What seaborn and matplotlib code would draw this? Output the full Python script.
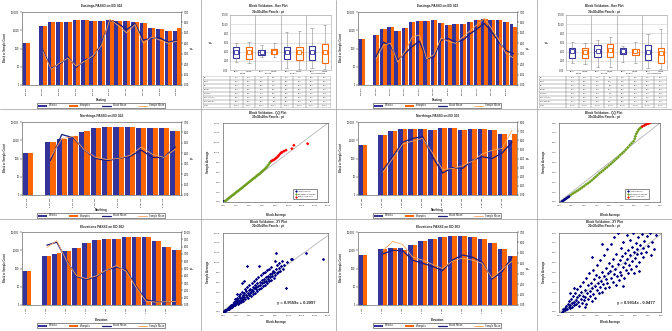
import numpy as np
import pandas as pd
import matplotlib
matplotlib.use("Agg")
import matplotlib.pyplot as plt
import seaborn as sns
from matplotlib.patches import Patch
from matplotlib.lines import Line2D
from matplotlib.ticker import NullLocator

# ---------------- swath data: counts per bin and bin means (pt) ----------------
east302_ticks = ["565 405", "565 455", "565 505", "565 555", "565 605",
                 "565 655", "565 705", "565 755", "565 805", "565 855"]
east302_blocks = [200, 0, 1650, 2850, 2850, 2850, 3500, 3700, 3100, 3100,
                  3700, 3200, 3200, 2850, 2500, 1340, 1100, 920, 950]
east302_samples = [200, 0, 1650, 2850, 2900, 2850, 3500, 3700, 3100, 3100,
                   3700, 3200, 3100, 2850, 2500, 1300, 1100, 950, 1300]
east302_bmean = [3.3, 1.6, 2.0, 2.7, 1.7, 2.4, 2.7, 4.0, 6.2, 5.9, 5.3, 5.9, 4.3, 4.5, 4.5, 4.1, 4.3]
east302_smean = [3.2, 1.5, 2.1, 2.6, 1.8, 2.3, 2.8, 3.8, 6.3, 5.7, 5.0, 5.8, 4.0, 4.6, 4.3, 4.0, 4.2]

north302_ticks = ["6 547 275", "6 547 325", "6 547 375", "6 547 425",
                  "6 547 475", "6 547 525", "6 547 575"]
north302_blocks = [190, 0, 800, 1200, 1500, 3000, 4900, 5500, 5500, 5300, 4800, 4900, 4500, 3200]
north302_samples = [190, 0, 800, 1100, 1700, 3200, 4900, 5500, 5400, 5300, 4900, 4900, 4500, 3200]
north302_bmean = [3.3, 5.8, 5.5, 4.3, 3.5, 3.3, 3.5, 3.7, 4.3, 3.6, 3.6, 4.6]
north302_smean = [3.6, 5.4, 5.6, 4.3, 3.6, 3.4, 3.5, 3.8, 4.6, 3.9, 3.6, 4.4]

elev302_ticks = ["2 110", "2 130", "2 150", "2 170", "2 190", "2 210", "2 230", "2 250"]
elev302_blocks = [70, 0, 470, 650, 900, 1400, 2400, 3800, 3900, 4200, 5000, 5200, 5000, 3200, 1500, 1000]
elev302_samples = [70, 0, 470, 700, 900, 1400, 2400, 3800, 3900, 4300, 5100, 5200, 5000, 3200, 1500, 1000]
elev302_bmean = [8.2, 8.6, 6.1, 3.9, 3.5, 3.9, 4.8, 5.2, 4.8, 2.5, 0.7, 0.45, 0.45, 0.5]
elev302_smean = [7.9, 8.8, 6.0, 4.0, 3.6, 4.0, 4.8, 5.4, 4.6, 2.4, 0.5, 0.4, 0.45, 0.5]

east303_ticks = ["565 330", "565 380", "565 430", "565 480", "565 530", "565 580",
                 "565 630", "565 680", "565 730", "565 780", "565 830"]
east303_blocks = [350, 0, 580, 1100, 1600, 880, 1340, 2850, 3200, 3200, 3500,
                  2500, 2000, 2300, 2300, 2850, 3800, 4100, 3600, 3500, 2800, 2300]
east303_samples = [350, 0, 580, 1100, 1600, 880, 1340, 2850, 3200, 3200, 3500,
                   2500, 2000, 2300, 2300, 2850, 3800, 4100, 3600, 3500, 2800, 1500]
east303_bmean = [2.7, 4.1, 3.8, 2.4, 3.0, 3.7, 4.2, 2.5, 2.7, 4.3,
                 4.45, 4.1, 4.3, 4.9, 5.4, 5.9, 5.1, 4.1, 3.3, 3.0]
east303_smean = [2.5, 3.8, 4.0, 2.2, 3.2, 4.6, 4.8, 2.5, 2.9, 4.5,
                 4.2, 4.0, 4.6, 5.2, 5.8, 6.4, 5.4, 4.3, 3.0, 2.6]

north303_ticks = ["6 547 180", "6 547 230", "6 547 280", "6 547 330",
                  "6 547 380", "6 547 430", "6 547 480", "6 547 530"]
north303_blocks = [530, 0, 2000, 3200, 4200, 4200, 4200, 3500, 4600, 4600, 3500, 4200, 4200, 3500, 2300, 1000]
north303_samples = [530, 0, 2000, 3200, 4200, 4200, 4200, 3500, 4600, 4600, 3500, 4200, 4200, 3500, 2300, 2100]
north303_bmean = [2.7, 4.2, 5.8, 6.2, 6.4, 4.2, 2.4, 3.0, 2.9, 3.8, 4.2, 4.0, 4.6, 5.8]
north303_smean = [2.5, 4.0, 5.6, 5.9, 6.2, 4.6, 2.8, 2.9, 3.2, 3.7, 4.5, 4.9, 5.1, 7.1]

elev303_ticks = ["2 110", "2 130", "2 150", "2 170", "2 190", "2 210", "2 230", "2 250"]
elev303_blocks = [530, 0, 1100, 1250, 1250, 1900, 3200, 4300, 5200, 6300, 6300, 5600, 4300, 2600, 1100, 500]
elev303_samples = [530, 0, 1100, 1250, 1000, 1900, 3200, 4300, 5200, 6300, 6300, 5600, 4300, 2600, 1100, 500]
elev303_bmean = [4.9, 5.25, 5.2, 4.3, 4.0, 3.7, 3.3, 4.3, 4.8, 4.6, 4.1, 2.5, 3.2, 4.6]
elev303_smean = [5.2, 6.1, 5.8, 4.6, 4.3, 3.9, 3.5, 4.2, 4.5, 4.3, 4.0, 2.6, 3.4, 4.2]

# ---------------- box plot statistics (Block / Sample per basis) ----------------
box_groups = ["Easting", "Northing", "Elevation", "Total Block Basis"]
box_rows = ["Q3", "MEAN", "Q1", "Median", "Std Dev", "Max (95% CI)", "Min (95% CI)", "Count"]

q1_302 = [2.55, 2.45, 3.30, 3.40, 2.35, 2.20, 2.20, 1.50]
med_302 = [3.90, 3.80, 3.90, 3.95, 3.95, 3.90, 3.80, 3.70]
q3_302 = [5.10, 5.10, 4.35, 4.50, 5.10, 5.10, 5.30, 5.65]
mean_302 = [4.00, 3.85, 3.95, 4.00, 3.95, 4.00, 3.90, 3.85]
lo_302 = [1.80, 1.50, 2.80, 2.80, 0.35, 0.30, 0.35, 0.15]
hi_302 = [5.80, 6.10, 5.50, 5.80, 8.40, 8.60, 9.10, 9.80]
std_302 = [1.21, 1.36, 0.71, 0.83, 1.93, 2.02, 1.95, 2.18]
count_302 = [49871, 49871, 49871, 49871, 49871, 49871, 49871, 49871]

q1_303 = [2.70, 2.55, 2.75, 2.80, 3.40, 3.25, 2.20, 1.45]
med_303 = [4.00, 3.90, 4.10, 4.20, 4.00, 4.00, 3.90, 3.60]
q3_303 = [4.90, 4.70, 5.45, 5.60, 4.70, 4.60, 5.45, 4.90]
mean_303 = [4.10, 3.95, 4.20, 4.30, 4.05, 4.05, 4.00, 3.70]
lo_303 = [1.45, 1.30, 0.70, 0.70, 1.80, 1.45, 0.35, 0.15]
hi_303 = [6.20, 6.00, 6.60, 7.10, 5.20, 6.20, 7.80, 8.90]
std_303 = [1.14, 1.22, 1.38, 1.47, 0.92, 1.06, 1.71, 1.98]
count_303 = [56204, 56204, 56204, 56204, 56204, 56204, 56204, 56204]

# ---------------- QQ plot quantiles ----------------
qq302_low_block = [0.05, 0.1, 0.15, 0.2]
qq302_low_sample = [0.0, 0.02, 0.05, 0.08]
qq302_mid_block = [0.3, 0.5, 0.7, 0.9, 1.1, 1.3, 1.5, 1.7, 1.9, 2.1, 2.3, 2.5, 2.7, 2.9, 3.1, 3.3, 3.5, 3.7,
                   3.9, 4.1, 4.3, 4.5, 4.7, 4.9, 5.1, 5.3, 5.5, 5.7, 5.9, 6.1, 6.3, 6.5, 6.7, 6.9, 7.1, 7.2]
qq302_mid_sample = [0.15, 0.35, 0.55, 0.8, 1.0, 1.2, 1.4, 1.6, 1.85, 2.05, 2.25, 2.45, 2.65, 2.85, 3.1, 3.3,
                    3.5, 3.75, 3.95, 4.15, 4.4, 4.6, 4.8, 5.0, 5.25, 5.45, 5.65, 5.85, 6.1, 6.35, 6.6, 6.85,
                    7.15, 7.5, 7.9, 8.1]
qq302_high_block = [7.4, 7.6, 7.8, 8.0, 8.2, 8.4, 8.6, 8.8, 9.0, 9.3, 9.6, 10.5, 10.8, 12.9]
qq302_high_sample = [8.3, 8.45, 8.6, 8.8, 9.0, 9.3, 9.6, 9.9, 10.1, 10.3, 10.5, 10.8, 11.5, 11.8]

qq303_low_block = [0.2, 0.3, 0.4, 0.5, 0.6, 0.7, 0.8]
qq303_low_sample = [0.0, 0.1, 0.2, 0.3, 0.38, 0.47, 0.56]
qq303_mid_block = [0.95, 1.1, 1.25, 1.4, 1.55, 1.7, 1.85, 2.0, 2.15, 2.3, 2.45, 2.6, 2.75, 2.9, 3.05, 3.2,
                   3.35, 3.5, 3.65, 3.8, 3.95, 4.1, 4.25, 4.4, 4.55, 4.7, 4.85, 5.0, 5.15, 5.3, 5.45, 5.6,
                   5.75, 5.9, 6.0, 6.05, 6.12, 6.2, 6.3, 6.4, 6.5]
qq303_mid_sample = [0.72, 0.85, 0.98, 1.1, 1.22, 1.35, 1.5, 1.62, 1.78, 1.9, 2.05, 2.2, 2.38, 2.55, 2.72,
                    2.9, 3.05, 3.2, 3.38, 3.52, 3.7, 3.85, 4.02, 4.2, 4.38, 4.55, 4.75, 4.92, 5.1, 5.3,
                    5.52, 5.75, 5.95, 6.15, 6.4, 6.65, 6.9, 7.1, 7.3, 7.45, 7.55]
qq303_high_block = [6.6, 6.75, 6.9, 7.05, 7.2]
qq303_high_sample = [7.65, 7.75, 7.85, 7.92, 8.0]

# ---------------- XY plot: panel block average vs sample average ----------------
xy302_block = [0.1, 0.2, 0.3, 0.35, 0.45, 0.5, 0.6, 0.7, 0.8, 0.85,
               0.95, 1.0, 1.1, 1.15, 1.25, 1.3, 1.4, 1.5, 1.55, 1.6,
               1.7, 1.8, 1.85, 1.9, 2.0, 2.05, 2.1, 2.2, 2.25, 2.3,
               2.4, 2.45, 2.5, 2.6, 2.65, 2.7, 2.8, 2.85, 2.9, 3.0,
               3.05, 3.1, 3.2, 3.25, 3.3, 3.4, 3.45, 3.5, 3.6, 3.65,
               3.7, 3.75, 3.8, 3.9, 3.95, 4.0, 4.1, 4.15, 4.2, 4.3,
               4.35, 4.4, 4.5, 4.55, 4.6, 4.7, 4.75, 4.8, 4.9, 5.0,
               5.05, 5.1, 5.2, 5.25, 5.3, 5.4, 5.5, 5.5, 5.6, 5.7,
               5.75, 5.8, 5.9, 6.0, 6.05, 6.1, 6.2, 6.3, 6.35, 6.4,
               6.5, 6.6, 6.7, 6.75, 6.8, 6.9, 7.0, 7.05, 7.1, 7.2,
               7.3, 7.35, 7.4, 7.5, 7.6, 7.7, 7.8, 7.9, 7.95, 8.0,
               8.1, 8.2, 8.3, 8.4, 8.5, 8.6, 8.7, 8.8, 9.0, 9.1,
               9.3, 9.6, 9.8, 10.3, 10.5, 12.7, 15.2, 2.2, 2.9, 3.2]
xy302_sample = [0.1, 0.15, 0.35, 0.2, 0.5, 0.4, 0.7, 0.55, 0.9, 0.7,
                1.1, 0.8, 1.3, 0.95, 1.5, 1.1, 1.2, 1.7, 1.35, 2.1,
                1.5, 1.9, 2.6, 1.4, 2.3, 1.8, 2.9, 2.0, 1.6, 2.5,
                3.2, 2.2, 1.9, 2.8, 3.6, 2.4, 2.1, 3.1, 4.0, 2.7,
                3.4, 2.3, 3.8, 3.0, 4.6, 2.6, 3.5, 4.2, 3.1, 5.0,
                9.3, 3.8, 2.9, 4.4, 3.4, 5.4, 3.9, 4.7, 3.2, 4.1,
                5.8, 4.5, 3.6, 5.1, 4.3, 6.2, 4.8, 3.9, 5.5, 4.6,
                6.6, 5.0, 4.2, 5.8, 7.0, 5.2, 9.4, 4.6, 6.1, 5.5,
                7.4, 4.9, 6.4, 5.8, 7.8, 5.2, 6.7, 6.0, 8.1, 5.5,
                7.0, 6.3, 8.5, 5.9, 7.3, 6.6, 8.8, 6.2, 7.6, 7.0,
                9.2, 6.5, 7.9, 7.2, 8.4, 6.8, 8.2, 10.3, 7.5, 12.0,
                8.7, 7.8, 9.5, 8.1, 9.0, 10.0, 8.4, 9.3, 10.4, 8.8,
                9.6, 4.9, 10.1, 10.8, 10.7, 12.0, 10.8, 3.6, 5.8, 6.2]
xy302_slope, xy302_icpt = 0.9559, 0.2097

xy303_block = [0.2, 0.3, 0.35, 0.45, 0.5, 0.55, 0.6, 0.7, 0.75, 0.8,
               0.85, 0.9, 0.95, 1.0, 1.05, 1.1, 1.15, 1.2, 1.25, 1.3,
               1.35, 1.4, 1.45, 1.5, 1.55, 1.6, 1.65, 1.7, 1.75, 1.8,
               1.85, 1.9, 1.95, 2.0, 2.05, 2.1, 2.15, 2.2, 2.25, 2.3,
               2.35, 2.4, 2.45, 2.5, 2.55, 2.6, 2.65, 2.7, 2.75, 2.8,
               2.85, 2.9, 2.95, 3.0, 3.05, 3.1, 3.15, 3.2, 3.25, 3.3,
               3.35, 3.4, 3.45, 3.5, 3.55, 3.6, 3.65, 3.7, 3.75, 3.8,
               3.85, 3.9, 3.95, 4.0, 4.05, 4.1, 4.15, 4.2, 4.25, 4.3,
               4.35, 4.4, 4.45, 4.5, 4.55, 4.6, 4.65, 4.7, 4.75, 4.8,
               4.85, 4.9, 4.95, 5.0, 5.05, 5.1, 5.15, 5.2, 5.25, 5.3,
               5.35, 5.4, 5.45, 5.5, 5.55, 5.6, 5.65, 5.7, 5.75, 5.8,
               5.85, 5.9, 5.95, 6.0, 6.05, 6.1, 6.15, 6.2, 6.3, 6.35,
               6.4, 6.5, 6.55, 6.6, 6.7, 6.8, 6.9, 7.0, 7.1, 7.2,
               7.3, 7.45, 7.6, 6.25, 5.0, 3.4, 2.6, 1.2, 0.9, 2.0]
xy303_sample = [0.05, 0.15, 0.3, 0.2, 0.45, 0.6, 0.3, 0.8, 0.5, 1.1,
                0.4, 0.7, 1.3, 0.9, 0.55, 1.6, 1.0, 0.7, 1.9, 1.2,
                0.8, 1.5, 2.3, 1.0, 1.7, 0.6, 2.6, 1.3, 2.0, 0.9,
                1.6, 3.0, 1.2, 2.2, 1.5, 3.4, 0.8, 1.9, 2.7, 1.3,
                3.9, 2.1, 1.6, 2.9, 1.1, 2.4, 4.3, 1.8, 3.3, 2.6,
                1.4, 3.7, 2.2, 4.8, 2.9, 1.9, 3.5, 2.5, 5.3, 3.1,
                2.0, 4.1, 2.8, 3.6, 5.8, 2.4, 4.5, 3.3, 6.4, 2.9,
                3.9, 5.0, 2.5, 4.2, 3.4, 6.9, 4.7, 3.0, 5.4, 3.8,
                7.6, 4.4, 2.7, 5.9, 3.6, 4.9, 8.0, 3.2, 5.3, 4.1,
                6.5, 3.7, 5.7, 4.6, 7.1, 3.4, 5.0, 6.0, 4.3, 7.8,
                5.4, 3.9, 6.3, 4.8, 5.8, 7.3, 4.4, 6.6, 5.2, 8.0,
                4.0, 6.1, 5.5, 7.0, 4.7, 6.4, 5.9, 7.6, 5.1, 6.8,
                6.0, 7.9, 5.6, 6.5, 7.2, 6.1, 7.7, 6.7, 8.0, 5.8,
                7.1, 6.4, 7.8, 4.2, 2.6, 6.9, 5.6, 2.4, 1.9, 0.5]
xy303_slope, xy303_icpt = 0.9914, -0.0477

# ---------------- styling ----------------
BLUE = "#333399"
ORANGE = "#FF6600"
NAVY = "#1A1A80"
PEACH = "#F7A55E"
PT_BLUE = "#000080"
PT_GREEN = "#6E9E1E"
PT_RED = "#FF0000"
FRAME = "#808080"

sns.set_theme(style="white")
plt.rcParams["font.family"] = ["Liberation Sans", "DejaVu Sans"]
plt.rcParams["axes.linewidth"] = 0.4

W, H = 672, 331
fig = plt.figure(figsize=(W / 100, H / 100), dpi=100)
fig.patch.set_facecolor("white")


def frac(x0, y0, x1, y1):
    return [x0 / W, 1 - y1 / H, (x1 - x0) / W, (y1 - y0) / H]


def ftext(x, y, s, **kw):
    fig.text(x / W, 1 - y / H, s, **kw)


def style_spines(ax, color=FRAME):
    for sp in ax.spines.values():
        sp.set_linewidth(0.4)
        sp.set_color(color)


def bar_panel(ox, oy, title, xlabel, ticks, blocks, samples, bmean, smean, rmax):
    n = len(blocks)
    ax = fig.add_axes(frac(ox + 22, oy + 12, ox + 181, oy + 85))
    df = pd.DataFrame({
        "bin": np.tile(np.arange(n), 2),
        "count": np.concatenate([blocks, samples]).astype(float),
        "series": ["#Blocks"] * n + ["#Samples"] * n,
    })
    sns.barplot(data=df, x="bin", y="count", hue="series", palette=[BLUE, ORANGE],
                saturation=1, width=0.9, gap=0, errorbar=None, legend=False,
                linewidth=0, ax=ax)
    ax.set_yscale("log")
    ax.set_ylim(1, 10000)
    ax.set_yticks([1, 10, 100, 1000, 10000])
    ax.set_yticklabels(["1", "10", "100", "1,000", "10,000"])
    ax.yaxis.set_minor_locator(NullLocator())
    ax.set_xlabel("")
    ax.set_ylabel("")

    ax2 = ax.twinx()
    xs = np.arange(n - len(bmean), n)
    sns.lineplot(x=xs, y=bmean, color=NAVY, linewidth=0.9, ax=ax2)
    sns.lineplot(x=xs, y=smean, color=PEACH, linewidth=0.6, ax=ax2)
    ax2.set_ylim(0, rmax)
    rt = np.arange(0, rmax + 0.5, 1.0)
    ax2.set_yticks(rt)
    ax2.set_yticklabels([f"{v:.2f}" for v in rt])
    ax2.set_ylabel("")
    ax.set_xlim(-0.5, n - 0.5)
    ax.set_xticks(np.arange(0, n, 2))
    ax.set_xticklabels(ticks, rotation=90)
    for a in (ax, ax2):
        a.tick_params(labelsize=1.8, length=1.2, width=0.3, pad=0.8, colors="black")
        style_spines(a)
    ax.tick_params(axis="x", labelsize=1.55)

    ftext(ox + 102, oy + 6.5, title, ha="center", va="center", fontsize=2.3, fontweight="bold")
    ftext(ox + 101, oy + 99.8, xlabel, ha="center", va="center", fontsize=2.2, fontweight="bold")
    ftext(ox + 5, oy + 48, "Block or Sample Count", ha="center", va="center",
          rotation=90, fontsize=1.9, fontweight="bold")
    ftext(ox + 192, oy + 48, "pt", ha="center", va="center", rotation=90,
          fontsize=2.0, fontweight="bold")

    handles = [Patch(facecolor=BLUE, edgecolor="none"), Patch(facecolor=ORANGE, edgecolor="none"),
               Line2D([], [], color=NAVY, lw=0.9), Line2D([], [], color=PEACH, lw=0.6)]
    leg = fig.legend(handles, ["#Blocks", "#Samples", "Block Mean", "Sample Mean"],
                     loc="center", bbox_to_anchor=((ox + 101) / W, 1 - (oy + 105.5) / H),
                     ncol=4, fontsize=1.8, frameon=True, fancybox=False, edgecolor="black",
                     handlelength=3.6, handleheight=0.9, columnspacing=4.5,
                     handletextpad=0.8, borderpad=0.35)
    leg.get_frame().set_linewidth(0.4)


def panel_titles(ox, oy, name, y1, y2):
    ftext(ox + 268, oy + y1, f"Block Validation - {name}", ha="center", va="center",
          fontsize=2.2, fontweight="bold")
    ftext(ox + 268, oy + y2, "30x30x20m Panels : pt", ha="center", va="center",
          fontsize=2.2, fontweight="bold")


def box_panel(ox, oy, q1, med, q3, mean, lo, hi, std, count):
    ax = fig.add_axes(frac(ox + 230, oy + 15, ox + 331, oy + 70))
    stats = [dict(q1=q1[i], med=med[i], q3=q3[i], whislo=lo[i], whishi=hi[i],
                  mean=mean[i], fliers=[]) for i in range(len(q1))]
    pos = np.arange(len(stats))
    bp = ax.bxp(stats, positions=pos, widths=0.5, showmeans=True, showfliers=False,
                patch_artist=True)
    colors = [BLUE, ORANGE] * (len(stats) // 2)
    for i, c in enumerate(colors):
        bp["boxes"][i].set_facecolor("white")
        bp["boxes"][i].set_edgecolor(c)
        bp["boxes"][i].set_linewidth(0.8)
        bp["medians"][i].set_color(c)
        bp["medians"][i].set_linewidth(0.5)
        m = bp["means"][i]
        m.set_marker("s")
        m.set_markersize(2.3)
        m.set_markerfacecolor("white")
        m.set_markeredgecolor(c)
        m.set_markeredgewidth(0.6)
    for w in bp["whiskers"] + bp["caps"]:
        w.set_color("#8c8c8c")
        w.set_linewidth(0.4)
    ax.set_xlim(-0.5, len(stats) - 0.5)
    ax.set_ylim(0, 12)
    yt = np.arange(0, 12.1, 2)
    ax.set_yticks(yt)
    ax.set_yticklabels([f"{v:.2f}" for v in yt])
    ax.yaxis.grid(True, color="#cfcfcf", lw=0.4)
    ax.set_axisbelow(True)
    for b in np.arange(1.5, len(stats) - 1, 2):
        ax.axvline(b, color="#8c8c8c", lw=0.4)
    ax.set_xticks(pos)
    ax.set_xticklabels(["Block", "Sample"] * (len(stats) // 2))
    ax.tick_params(axis="x", labelsize=1.4, length=0, pad=0.6)
    ax.tick_params(axis="y", labelsize=1.8, length=0, pad=1.0)
    style_spines(ax, "#a0a0a0")
    ftext(ox + 211, oy + 42, "pt", ha="center", va="center", rotation=90,
          fontsize=2.0, fontweight="bold")
    step = 101 / len(stats)
    for g, name in enumerate(box_groups):
        ftext(ox + 230 + step * (2 * g + 1), oy + 73.8, name, ha="center", va="center", fontsize=1.4)

    # summary table under the boxes
    tab = fig.add_axes(frac(ox + 203, oy + 75.5, ox + 331, oy + 107.5))
    tab.set_xlim(203, 331)
    tab.set_ylim(len(box_rows), 0)
    tab.axis("off")
    edges = [203] + [230 + step * k for k in range(len(stats) + 1)]
    tab.hlines(np.arange(len(box_rows) + 1), 203, 331, color="#606060", lw=0.3)
    tab.vlines(edges, 0, len(box_rows), color="#606060", lw=0.3)
    cells = [[f"{v:.2f}" for v in q3], [f"{v:.2f}" for v in mean], [f"{v:.2f}" for v in q1],
             [f"{v:.2f}" for v in med], [f"{v:.2f}" for v in std], [f"{v:.2f}" for v in hi],
             [f"{v:.2f}" for v in lo], [f"{v:,}" for v in count]]
    for r, label in enumerate(box_rows):
        tab.text(204, r + 0.5, label, ha="left", va="center", fontsize=1.3)
        for k in range(len(stats)):
            tab.text(230 + step * (k + 0.5), r + 0.5, cells[r][k], ha="center",
                     va="center", fontsize=1.3)


def scatter_axes(ox, oy, right, lim, step, xlab_y):
    ax = fig.add_axes(frac(ox + 223, oy + 13, ox + right, oy + 92))
    ax.set_xlim(0, lim)
    ax.set_ylim(0, lim)
    t = np.arange(0, lim + 0.01, step)
    ax.set_xticks(t)
    ax.set_yticks(t)
    ax.set_xticklabels([f"{v:.2f}" for v in t])
    ax.set_yticklabels([f"{v:.2f}" for v in t])
    ax.tick_params(labelsize=1.7, length=1.0, width=0.3, pad=0.8)
    style_spines(ax, "#404040")
    ftext(ox + (223 + right) / 2, oy + xlab_y, "Block Average", ha="center", va="center",
          fontsize=2.1, fontweight="bold")
    ftext(ox + 207.5, oy + 52, "Sample Average", ha="center", va="center", rotation=90,
          fontsize=2.1, fontweight="bold")
    return ax


def qq_panel(ox, oy, right, lim, step, low_b, low_s, mid_b, mid_s, high_b, high_s):
    ax = scatter_axes(ox, oy, right, lim, step, 105)
    ref = np.array([0, lim])
    ax.plot(ref, ref, color="#b4b4b4", lw=0.6, zorder=1)
    df = pd.DataFrame({
        "block": low_b + mid_b + high_b,
        "sample": low_s + mid_s + high_s,
        "class": (["less than P5"] * len(low_b) + ["between P5&P95"] * len(mid_b)
                  + ["great than P95"] * len(high_b)),
    })
    sns.scatterplot(data=df, x="block", y="sample", hue="class",
                    palette={"less than P5": PT_BLUE, "between P5&P95": PT_GREEN,
                             "great than P95": PT_RED},
                    marker="D", s=3, linewidth=0, legend=False, ax=ax, zorder=3)
    ax.set_xlabel("")
    ax.set_ylabel("")
    handles = [Line2D([], [], marker="D", ls="none", color=c, markersize=1.4, mew=0)
               for c in (PT_BLUE, PT_GREEN, PT_RED)]
    leg = fig.legend(handles, ["less than P5", "between P5&P95", "great than P95"],
                     loc="center", bbox_to_anchor=((ox + right - 23) / W, 1 - (oy + 84) / H),
                     fontsize=1.6, frameon=True, fancybox=False, edgecolor="black",
                     handlelength=1.0, handletextpad=0.6, borderpad=0.6, labelspacing=0.5)
    leg.get_frame().set_linewidth(0.4)
    panel_titles(ox, oy, "QQ Plot", 3, 7)


def xy_panel(ox, oy, right, lim, step, bx, sy, slope, icpt, eq_x):
    ax = scatter_axes(ox, oy, right, lim, step, 102)
    fit = np.array([0, lim])
    ax.plot(fit, slope * fit + icpt, color="#b4b4b4", lw=0.6, zorder=1)
    sns.scatterplot(x=bx, y=sy, color=PT_BLUE, marker="D", s=3, linewidth=0, ax=ax, zorder=3)
    sign = "+" if icpt >= 0 else "-"
    ax.text(eq_x, 0.12, f"y = {slope:.4f}x {sign} {abs(icpt):.4f}", transform=ax.transAxes,
            ha="center", va="center", fontsize=3.0, fontweight="bold")
    panel_titles(ox, oy, "XY Plot", 2, 6)


# ---------------- ED 302 ----------------
bar_panel(0, 0, "Eastings PASS3 on ED 302", "Easting", east302_ticks,
          east302_blocks, east302_samples, east302_bmean, east302_smean, 7)
bar_panel(0, 110, "Northings PASS3 on ED 302", "Northing", north302_ticks,
          north302_blocks, north302_samples, north302_bmean, north302_smean, 7)
bar_panel(0, 220, "Elevations PASS3 on ED 302", "Elevation", elev302_ticks,
          elev302_blocks, elev302_samples, elev302_bmean, elev302_smean, 10)
box_panel(0, 0, q1_302, med_302, q3_302, mean_302, lo_302, hi_302, std_302, count_302)
panel_titles(0, 0, "Box Plot", 6, 11.5)
qq_panel(0, 110, 328, 16, 2, qq302_low_block, qq302_low_sample, qq302_mid_block,
         qq302_mid_sample, qq302_high_block, qq302_high_sample)
xy_panel(0, 220, 328, 16, 2, xy302_block, xy302_sample, xy302_slope, xy302_icpt, 0.7)

# ---------------- ED 303 ----------------
bar_panel(336, 0, "Eastings PASS3 on ED 303", "Easting", east303_ticks,
          east303_blocks, east303_samples, east303_bmean, east303_smean, 7)
bar_panel(336, 110, "Northings PASS3 on ED 303", "Northing", north303_ticks,
          north303_blocks, north303_samples, north303_bmean, north303_smean, 8)
bar_panel(336, 220, "Elevations PASS3 on ED 303", "Elevation", elev303_ticks,
          elev303_blocks, elev303_samples, elev303_bmean, elev303_smean, 7)
box_panel(336, 0, q1_303, med_303, q3_303, mean_303, lo_303, hi_303, std_303, count_303)
panel_titles(336, 0, "Box Plot", 6, 11.5)
qq_panel(336, 110, 324, 8, 1, qq303_low_block, qq303_low_sample, qq303_mid_block,
         qq303_mid_sample, qq303_high_block, qq303_high_sample)
xy_panel(336, 220, 325, 8, 1, xy303_block, xy303_sample, xy303_slope, xy303_icpt, 0.75)

# chart frame separators
for x in (201, 336, 537):
    fig.add_artist(Line2D([x / W, x / W], [0, 1], transform=fig.transFigure, color="#9a9a9a", lw=0.5))
for y in (109, 219):
    fig.add_artist(Line2D([0, 1], [1 - y / H, 1 - y / H], transform=fig.transFigure, color="#9a9a9a", lw=0.5))

fig.savefig("out.png", dpi=100)
